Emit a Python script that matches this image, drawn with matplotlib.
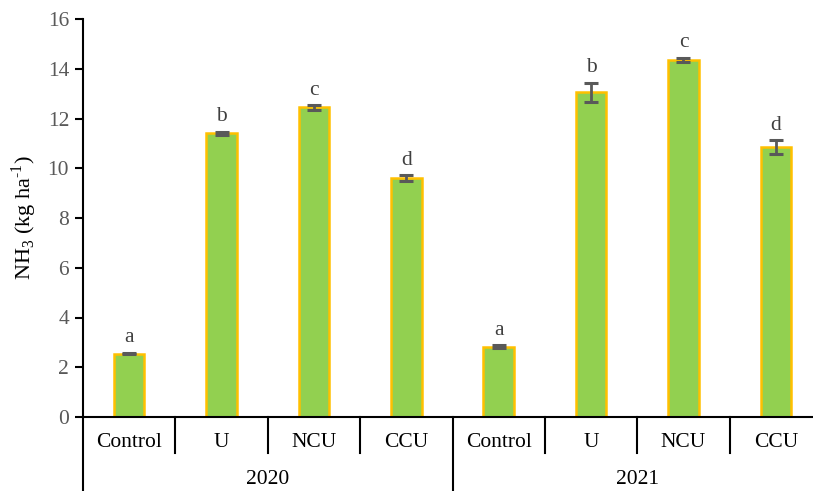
import matplotlib
matplotlib.use("Agg")
import matplotlib.pyplot as plt
import numpy as np

plt.rcParams['font.family'] = ['Liberation Serif', 'DejaVu Serif']
plt.rcParams['mathtext.fontset'] = 'custom'
plt.rcParams['mathtext.rm'] = 'Liberation Serif'

years = ['2020', '2021']
treatments = ['Control', 'U', 'NCU', 'CCU']
nh3 = [2.55, 11.40, 12.45, 9.60, 2.83, 13.05, 14.35, 10.85]
err = [0.03, 0.06, 0.09, 0.12, 0.06, 0.38, 0.09, 0.28]
letters = ['a', 'b', 'c', 'd', 'a', 'b', 'c', 'd']

fig = plt.figure(figsize=(8.13, 4.91), dpi=100)
ax = fig.add_axes([83 / 813, 1 - 417 / 491, 739 / 813, 398 / 491])

x = np.arange(len(nh3))
ax.bar(x, nh3, width=0.33, color='#92D050', edgecolor='#FFC000', linewidth=1.8, zorder=2)
ax.errorbar(x, nh3, yerr=err, fmt='none', ecolor='#595959', elinewidth=2,
            capsize=5, capthick=2.2, zorder=3)

# significance letters above the error bars
for xi, v, e, lab in zip(x, nh3, err, letters):
    ax.annotate(lab, xy=(xi, v + e), xytext=(0, 4), textcoords='offset points',
                ha='center', va='bottom', fontsize=15.5, color='#404040')

ax.set_xlim(-0.5, len(nh3) - 0.5)
ax.set_ylim(0, 16)
ax.set_yticks(np.arange(0, 17, 2))
ax.tick_params(axis='y', direction='out', length=6, width=1.5, labelsize=15.5,
               labelcolor='#595959', pad=4)
ax.set_xticks([])
for side in ['top', 'right']:
    ax.spines[side].set_visible(False)
ax.spines['left'].set_linewidth(1.5)
ax.spines['bottom'].set_linewidth(1.5)
ax.set_ylabel(r'NH$_3$ (kg ha$^{\text{-1}}$)', fontsize=16, labelpad=6)

# two-level category axis
trans = ax.get_xaxis_transform()
for i in range(len(nh3) + 1):
    bottom = -0.186 if i % 4 == 0 else -0.09
    ax.plot([i - 0.5, i - 0.5], [0, bottom], color='black', lw=1.5,
            transform=trans, clip_on=False)
for i in range(len(nh3)):
    ax.text(i, -0.065, treatments[i % 4], transform=trans, ha='center',
            va='center', fontsize=15.5)
for j, yr in enumerate(years):
    ax.text(j * 4 + 1.5, -0.158, yr, transform=trans, ha='center',
            va='center', fontsize=15.5)

fig.savefig('out.png', dpi=100)
